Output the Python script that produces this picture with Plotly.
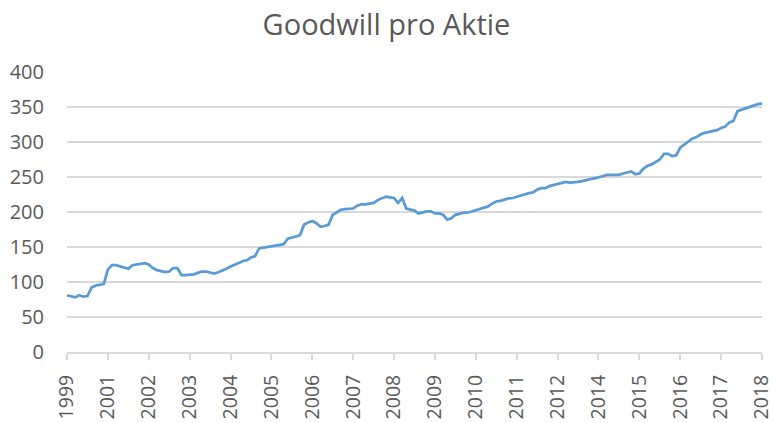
import plotly.graph_objects as go

# Goodwill per share, one value per reporting point (171 points)
goodwill = [
    81, 79, 78, 81, 79, 80, 92, 95, 96, 97,
    118, 124, 124, 122, 120, 119, 124, 125, 125, 127,
    125, 120, 117, 116, 114, 115, 120, 120, 110, 110,
    110, 111, 113, 115, 115, 113, 112, 114, 116, 119,
    122, 124, 127, 130, 131, 135, 137, 148, 149, 150.5,
    151, 152, 153, 154, 162, 163, 165, 167, 182, 185,
    187, 184, 179, 180, 182, 196, 200, 203, 204, 204,
    205, 209, 211, 211, 212, 213, 217, 220, 222, 221,
    220, 213, 220, 205, 204, 202, 198, 200, 201, 201,
    198, 198, 196, 189, 191, 196, 198, 199, 199, 201,
    203, 205, 207, 208, 212, 215, 216, 218, 219.5, 220,
    222, 224, 225, 227, 228, 232, 234, 234, 237, 238.6,
    240, 242, 243, 242, 242, 243, 244, 246, 247, 248,
    249, 251, 253, 253, 252, 253, 255, 256, 258, 254,
    255, 262, 266, 268, 271, 275, 283, 283, 280, 281,
    292, 296, 300, 305, 307, 311, 313, 314, 316, 317,
    320, 322, 328, 330, 344, 346, 348, 351, 352, 354, 355,
]

# Year labels shown on every 10th point
year_labels = ["1999", "2001", "2002", "2003", "2004", "2005", "2006", "2007",
               "2008", "2009", "2010", "2011", "2012", "2014", "2015", "2016",
               "2017", "2018"]
label_step = 10

positions = list(range(len(goodwill)))
tick_positions = [i * label_step for i in range(len(year_labels))]

text_color = "#595959"
grid_color = "#d9d9d9"
font_family = "Open Sans"

fig = go.Figure(
    go.Scatter(
        x=positions,
        y=goodwill,
        mode="lines",
        line=dict(color="#5B9BD5", width=2.75),
        hoverinfo="y",
    )
)

fig.update_layout(
    width=773,
    height=423,
    margin=dict(l=67, r=11, t=72, b=71),
    paper_bgcolor="white",
    plot_bgcolor="white",
    showlegend=False,
    font=dict(family=font_family, color=text_color),
    title=dict(
        text="Goodwill pro Aktie",
        x=0.5,
        xanchor="center",
        y=1 - 25 / 423,
        yanchor="middle",
        font=dict(family=font_family, size=29, color=text_color),
    ),
)

fig.update_xaxes(
    range=[0, len(goodwill) - 1],
    automargin=False,
    tickmode="array",
    tickvals=tick_positions,
    ticktext=year_labels,
    tickangle=-90,
    ticks="outside",
    ticklen=6,
    tickwidth=1.5,
    tickcolor=grid_color,
    ticklabelstandoff=7,
    ticklabeloverflow="allow",
    showline=True,
    linecolor=grid_color,
    linewidth=2,
    showgrid=False,
    zeroline=False,
    tickfont=dict(family=font_family, size=19.5, color=text_color),
)

fig.update_yaxes(
    range=[0, 400],
    automargin=False,
    tickmode="array",
    tickvals=[0, 50, 100, 150, 200, 250, 300, 350, 400],
    showgrid=True,
    gridcolor=grid_color,
    gridwidth=1.5,
    zeroline=False,
    showline=False,
    ticks="",
    ticklabelstandoff=22,
    tickfont=dict(family=font_family, size=20, color=text_color),
)

fig.write_html("out.html")
